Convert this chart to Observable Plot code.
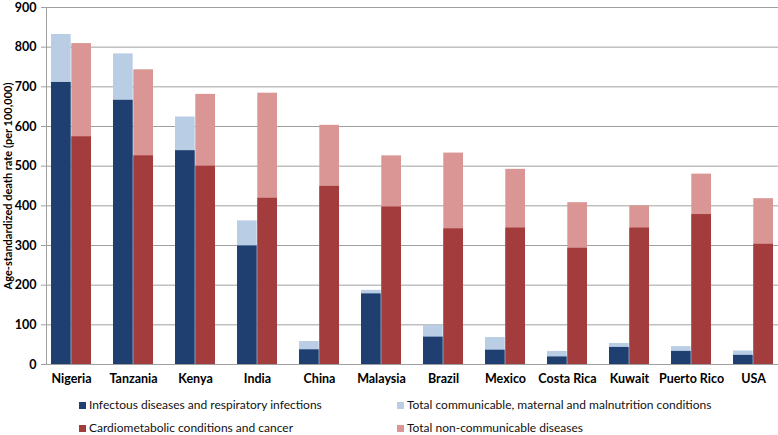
<!DOCTYPE html>
<html>
<head>
<meta charset="utf-8">
<script src="https://cdn.jsdelivr.net/npm/d3@7"></script>
<script src="https://cdn.jsdelivr.net/npm/@observablehq/plot@0.6"></script>
<style>
  html, body { margin: 0; padding: 0; background: #fff; }
  #wrap { position: relative; width: 778px; height: 435px; font-family: Lato, "Open Sans", sans-serif; overflow: hidden; }
  .lg { position: absolute; font-size: 12px; color: #111; white-space: nowrap; line-height: 13px; }
  .sw { display: inline-block; width: 7px; height: 7px; margin-right: 3px; vertical-align: 0px; }
  svg { overflow: visible; }
</style>
</head>
<body>
<div id="wrap"></div>
<script>
const countries = ["Nigeria","Tanzania","Kenya","India","China","Malaysia","Brazil","Mexico","Costa Rica","Kuwait","Puerto Rico","USA"];
const infectious = [711,666,539,299,37,178,69,36,19,43,33,23];
const communicable = [832,783,624,362,58,187,99,68,33,53,45,34];
const cardiometabolic = [574,526,500,419,449,397,342,344,293,344,378,303];
const nonCommunicable = [809,743,681,684,603,526,533,492,408,400,480,418];
const yTicks = [0,100,200,300,400,500,600,700,800,900];
const seriesNames = [
  "Infectous diseases and respiratory infections",
  "Total communicable, maternal and malnutrition conditions",
  "Cardiometabolic conditions and cancer",
  "Total non-communicable diseases"
];
const colors = ["#1e3f70", "#b9cde5", "#a33c3c", "#d99694"];

const rows = countries.map((c, i) => ({
  country: c,
  infectious: infectious[i],
  communicable: communicable[i],
  cardiometabolic: cardiometabolic[i],
  ncd: nonCommunicable[i]
}));

const half = 20.3;
const chart = Plot.plot({
  width: 778,
  height: 395,
  marginTop: 7,
  marginLeft: 46,
  marginRight: 0,
  marginBottom: 31,
  style: { fontFamily: "Lato, 'Open Sans', sans-serif", background: "#fff", overflow: "visible" },
  x: { type: "band", domain: countries, range: [35.2, 788.4], paddingInner: 0.36, paddingOuter: 0.18, label: null },
  y: { domain: [0, 900], label: null },
  marks: [
    Plot.gridY(yTicks, { stroke: "#a0a0a0", strokeOpacity: 1 }),
    Plot.axisY(yTicks, { tickSize: 5, tickPadding: 5, stroke: "#a0a0a0", fill: "#000", fontSize: 12.5, fontWeight: "bold", label: null }),
    Plot.axisX({ tickSize: 0, tickPadding: 10, fontSize: 12.5, fontWeight: "bold", fill: "#000", label: null }),
    Plot.text(["Age-standardized death rate (per 100,000)"], { frameAnchor: "left", textAnchor: "middle", dx: -38, rotate: -90, fontSize: 11, fontWeight: "bold", fill: "#000" }),
    Plot.barY(rows, { x: "country", y: "communicable", fill: colors[1], insetRight: half }),
    Plot.barY(rows, { x: "country", y: "infectious", fill: colors[0], insetRight: half }),
    Plot.barY(rows, { x: "country", y: "ncd", fill: colors[3], insetLeft: half }),
    Plot.barY(rows, { x: "country", y: "cardiometabolic", fill: colors[2], insetLeft: half }),
    Plot.ruleY([0], { stroke: "#a0a0a0" }),
    Plot.frame({ anchor: "left", stroke: "#a0a0a0" })
  ]
});

const wrap = document.getElementById("wrap");
chart.style.position = "absolute";
chart.style.left = "0px";
chart.style.top = "0px";
wrap.appendChild(chart);

const legendPos = [[79, 398], [397, 398], [79, 421], [397, 421]];
seriesNames.forEach((name, i) => {
  const d = document.createElement("div");
  d.className = "lg";
  d.style.left = legendPos[i][0] + "px";
  d.style.top = legendPos[i][1] + "px";
  const sw = document.createElement("span");
  sw.className = "sw";
  sw.style.background = colors[i];
  d.appendChild(sw);
  d.appendChild(document.createTextNode(name));
  wrap.appendChild(d);
});
</script>
</body>
</html>
